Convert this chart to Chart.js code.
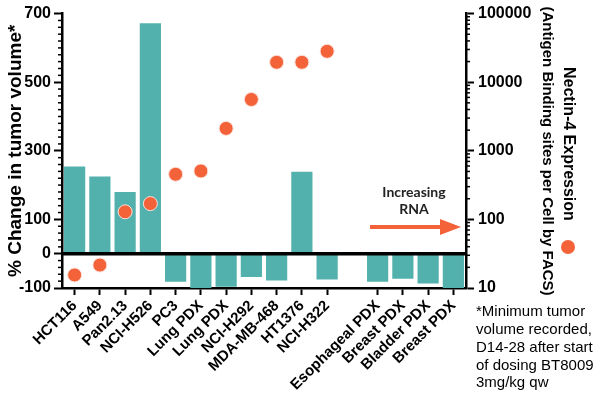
<!DOCTYPE html>
<html lang="en">
<head>
<meta charset="UTF-8">
<title>Nectin-4 expression vs tumor volume</title>
<script src="https://cdn.jsdelivr.net/npm/chart.js"></script>
<style>
  html, body { margin: 0; padding: 0; background: #fff; }
</style>
</head>
<body>
<canvas id="chart" width="595" height="400"></canvas>
<script>
    // data
    const models = ['HCT116', 'A549', 'Pan2.13', 'NCI-H526', 'PC3', 'Lung PDX', 'Lung PDX', 'NCI-H292',
        'MDA-MB-468', 'HT1376', 'NCI-H322', '', 'Esophageal PDX', 'Breast PDX', 'Bladder PDX', 'Breast PDX'];
    const tumorChange = [254, 225, 180, 672, -82, -100, -96, -68, -78, 239, -75, null, -82, -73, -87, -100];
    const nectinSites = [15.5, 21.6, 129, 170, 455, 508, 2120, 5600, 19500, 19500, 28200, null, null, null, null, null];
    const leftTicks = [700, 500, 300, 100, 0, -100];
    const rightTicks = [10, 100, 1000, 10000, 100000];
    const footnote = ['*Minimum tumor', 'volume recorded,', 'D14-28 after start', 'of dosing BT8009', '3mg/kg qw'];

    const teal = '#53b1ad';
    const orange = '#f4623a';
    const family = "'Liberation Sans', Arial, sans-serif";

    const extras = {
        id: 'extras',
        afterDatasetsDraw(chart) {
            const ctx = chart.ctx;
            const area = chart.chartArea;
            const yl = chart.scales.y;
            const yr = chart.scales.y2;
            ctx.save();
            ctx.strokeStyle = '#000';

            // zero line on top of the bars
            const y0 = yl.getPixelForValue(0);
            ctx.lineWidth = 3.5;
            ctx.beginPath();
            ctx.moveTo(area.left, y0);
            ctx.lineTo(area.right, y0);
            ctx.stroke();

            // minor ticks
            ctx.lineWidth = 1.5;
            for (let v = -100; v <= 700; v += 20) {
                if (leftTicks.includes(v)) continue;
                const py = yl.getPixelForValue(v);
                ctx.beginPath();
                ctx.moveTo(area.left - 4, py);
                ctx.lineTo(area.left, py);
                ctx.stroke();
            }
            for (let d = 10; d < 100000; d *= 10) {
                for (let k = 2; k <= 9; k++) {
                    const py = yr.getPixelForValue(d * k);
                    ctx.beginPath();
                    ctx.moveTo(area.right, py);
                    ctx.lineTo(area.right + 4, py);
                    ctx.stroke();
                }
            }
            ctx.restore();
        },
        afterDraw(chart) {
            const ctx = chart.ctx;
            ctx.save();

            // "Increasing RNA" arrow
            ctx.fillStyle = '#222';
            ctx.font = "bold 14px Lato, 'Open Sans', sans-serif";
            ctx.textAlign = 'center';
            ctx.textBaseline = 'middle';
            ctx.fillText('Increasing', 414, 192);
            ctx.fillText('RNA', 414, 209);
            ctx.strokeStyle = orange;
            ctx.fillStyle = orange;
            ctx.lineWidth = 4;
            ctx.beginPath();
            ctx.moveTo(370, 227);
            ctx.lineTo(444, 227);
            ctx.stroke();
            ctx.beginPath();
            ctx.moveTo(440, 219);
            ctx.lineTo(461, 227);
            ctx.lineTo(440, 235);
            ctx.closePath();
            ctx.fill();

            // right axis title
            ctx.fillStyle = '#000';
            ctx.save();
            ctx.translate(568, 67);
            ctx.rotate(Math.PI / 2);
            ctx.textAlign = 'left';
            ctx.font = 'bold 16px ' + family;
            ctx.fillText('Nectin-4 Expression', 0, 0);
            ctx.restore();
            ctx.fillStyle = orange;
            ctx.beginPath();
            ctx.arc(568, 247, 7, 0, Math.PI * 2);
            ctx.fill();
            ctx.fillStyle = '#000';
            ctx.save();
            ctx.translate(547, 151);
            ctx.rotate(Math.PI / 2);
            ctx.textAlign = 'center';
            ctx.font = 'bold 15px ' + family;
            ctx.fillText('(Antigen Binding sites per Cell by FACS)', 0, 0);
            ctx.restore();

            // footnote
            ctx.textAlign = 'left';
            ctx.font = '15px ' + family;
            footnote.forEach((line, i) => {
                ctx.fillText(line, 476, 312 + i * 17.8);
            });
            ctx.restore();
        }
    };

    new Chart(document.getElementById('chart'), {
        type: 'bar',
        data: {
            labels: models,
            datasets: [
                {
                    type: 'line',
                    label: 'Nectin-4 expression',
                    data: nectinSites,
                    yAxisID: 'y2',
                    showLine: false,
                    pointRadius: 7,
                    pointBackgroundColor: orange,
                    pointBorderColor: '#fbe3dc',
                    pointBorderWidth: 1,
                    order: 1,
                },
                {
                    label: '% change in tumor volume',
                    data: tumorChange,
                    yAxisID: 'y',
                    backgroundColor: teal,
                    borderWidth: 0,
                    barPercentage: 0.84,
                    categoryPercentage: 1,
                    order: 2,
                },
            ],
        },
        options: {
            responsive: false,
            animation: false,
            layout: {
                padding: {top: 13, left: 0, right: 0, bottom: 0},
            },
            plugins: {
                legend: {display: false},
                tooltip: {enabled: false},
            },
            scales: {
                x: {
                    afterFit: (scale) => { scale.height = 112; },
                    grid: {
                        drawOnChartArea: false,
                        offset: false,
                        tickLength: 7,
                        tickWidth: 2,
                        tickColor: (c) => c.index === 11 ? 'rgba(0,0,0,0)' : '#000',
                    },
                    border: {color: '#000', width: 2.5},
                    ticks: {
                        autoSkip: false,
                        minRotation: 45,
                        maxRotation: 45,
                        padding: 2,
                        color: '#000',
                        font: {family: family, size: 15, weight: 'bold'},
                    },
                },
                y: {
                    position: 'left',
                    min: -100,
                    max: 700,
                    afterFit: (scale) => { scale.width = 62; },
                    afterBuildTicks: (scale) => { scale.ticks = leftTicks.map(v => ({value: v})); },
                    grid: {
                        drawOnChartArea: false,
                        tickLength: 8,
                        tickWidth: 2,
                        tickColor: '#000',
                    },
                    border: {color: '#000', width: 2.5},
                    ticks: {
                        padding: 3,
                        color: '#000',
                        font: {family: family, size: 16, weight: 'bold'},
                    },
                    title: {
                        display: true,
                        text: '% Change in tumor volume*',
                        color: '#000',
                        padding: {top: 4, bottom: 0},
                        font: {family: family, size: 19, weight: 'bold'},
                    },
                },
                y2: {
                    type: 'logarithmic',
                    position: 'right',
                    min: 10,
                    max: 100000,
                    afterFit: (scale) => { scale.width = 129; },
                    afterBuildTicks: (scale) => { scale.ticks = rightTicks.map(v => ({value: v, major: true})); },
                    grid: {
                        drawOnChartArea: false,
                        tickLength: 8,
                        tickWidth: 2,
                        tickColor: '#000',
                    },
                    border: {color: '#000', width: 2.5},
                    ticks: {
                        padding: 4,
                        color: '#000',
                        font: {family: family, size: 16, weight: 'bold'},
                        callback: (v) => String(v),
                    },
                },
            },
        },
        plugins: [extras],
    });
</script>
</body>
</html>
